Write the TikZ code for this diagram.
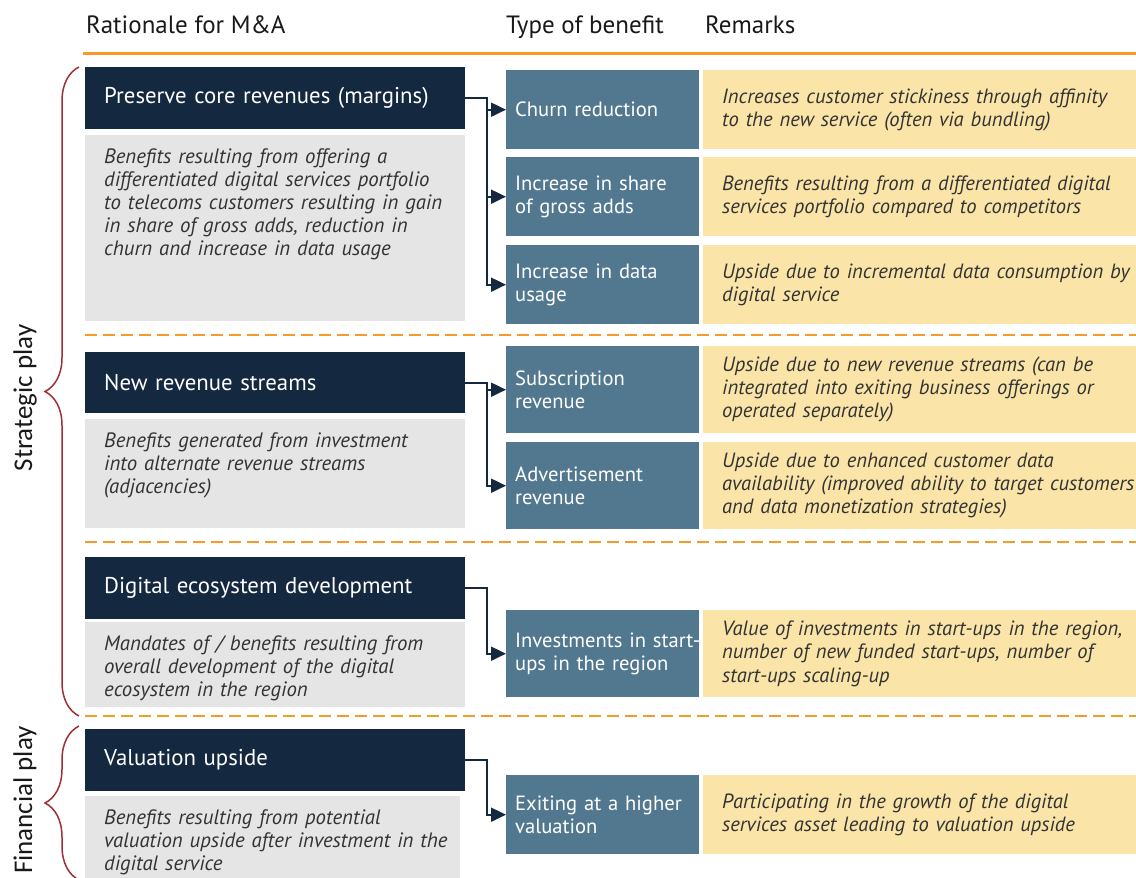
\documentclass[tikz,border=0pt]{standalone}
\usepackage{fontspec}
\setmainfont{PT Sans}
\newfontfamily\sidefont{Carlito}
\usetikzlibrary{arrows.meta,positioning,decorations.pathreplacing}

\definecolor{navy}{HTML}{14283F}
\definecolor{steel}{HTML}{52788F}
\definecolor{sand}{HTML}{FAE4A8}
\definecolor{pale}{HTML}{E5E5E5}
\definecolor{accent}{HTML}{F79A2A}
\definecolor{wine}{HTML}{9E2F33}

\tikzset{
  head/.style={anchor=base west, inner sep=0pt, text=black!90,
    font=\fontsize{25}{28}\selectfont},
  side/.style={anchor=base, rotate=90, inner sep=0pt, text=black!90,
    font=\sidefont\fontsize{27}{30}\selectfont},
  rationale/.style={fill=navy, text=white, anchor=north west,
    text width=342pt, inner xsep=19pt, minimum height=62pt, align=left,
    font=\fontsize{22.8}{26}\selectfont},
  greybox/.style={fill=pale, anchor=north west, inner sep=0pt},
  greytext/.style={anchor=north west, inner sep=0pt, text width=360pt,
    align=left, text=black!80, font=\itshape\fontsize{20.8}{23.2}\selectfont},
  benefit/.style={fill=steel, text=white, anchor=north west,
    text width=175pt, inner xsep=9pt, align=left,
    font=\fontsize{20.6}{23.5}\selectfont},
  remark/.style={fill=sand, text=black!80, anchor=north west,
    text width=395pt, inner xsep=19pt, align=left,
    font=\itshape\fontsize{20.6}{23.2}\selectfont},
  link/.style={navy, line width=2pt, -{Triangle[length=15pt,width=14pt]}},
  split/.style={accent, line width=2pt, dash pattern=on 12pt off 6pt},
  curly/.style={wine, line width=1.5pt, decorate,
    decoration={brace, amplitude=34pt}}
}

\begin{document}
\begin{tikzpicture}[x=1pt, y=-1pt]
  \useasboundingbox (0,0) rectangle (1136,878);

  % column heads
  \node[head] (hrat) at (86,34) {Rationale for M\&A};
  \node[head] (hben) at (506,34) {Type of benefit};
  \node[head] (hrem) at (705,34) {Remarks};
  \draw[accent, line width=3pt] (83,53) -- (1136,53);

  % rationale
  \node[rationale] (pres) at (85,67) {Preserve core revenues (margins)};
  \node[greybox, minimum width=380pt, minimum height=186pt] (gpres) at (85,135) {};
  \node[greytext] (tpres) at (gpres.north west) [xshift=19pt, yshift=-13pt]
    {Benefits resulting from offering a\\ differentiated digital services portfolio\\
     to telecoms customers resulting in gain\\ in share of gross adds, reduction in\\
     churn and increase in data usage};

  \node[rationale, minimum height=61pt] (newrev) at (85,352) {New revenue streams};
  \node[greybox, minimum width=380pt, minimum height=109pt] (gnewrev) at (85,419) {};
  \node[greytext] (tnewrev) at (gnewrev.north west) [xshift=19pt, yshift=-13pt]
    {Benefits generated from investment\\ into alternate revenue streams\\ (adjacencies)};

  \node[rationale] (eco) at (85,557) {Digital ecosystem development};
  \node[greybox, minimum width=380pt, minimum height=85pt] (geco) at (85,622) {};
  \node[greytext] (teco) at (geco.north west) [xshift=19pt, yshift=-13pt]
    {Mandates of / benefits resulting from\\ overall development of the digital\\
     ecosystem in the region};

  \node[rationale] (valup) at (85,729) {Valuation upside};
  \node[greybox, minimum width=375pt, minimum height=84pt] (gvalup) at (85,796) {};
  \node[greytext] (tvalup) at (gvalup.north west) [xshift=19pt, yshift=-13pt]
    {Benefits resulting from potential\\ valuation upside after investment in the\\
     digital service};

  % type of benefit
  \node[benefit, minimum height=79pt] (churn) at (506,70) {Churn reduction};
  \node[benefit, minimum height=79pt] (share) at (506,157) {Increase in share\\ of gross adds};
  \node[benefit, minimum height=79pt] (datause) at (506,245) {Increase in data\\ usage};
  \node[benefit, minimum height=87pt] (subs) at (506,346) {Subscription\\ revenue};
  \node[benefit, minimum height=87pt] (advert) at (506,442) {Advertisement\\ revenue};
  \node[benefit, minimum height=87pt] (invest) at (506,610) {\mbox{Investments in start-}\\ ups in the region};
  \node[benefit, minimum height=79pt] (exit) at (506,775) {Exiting at a higher\\ valuation};

  % remarks
  \node[remark, minimum height=79pt] (rchurn) at (703,70)
    {Increases customer stickiness through affinity\\ to the new service (often via bundling)};
  \node[remark, minimum height=79pt] (rshare) at (703,157)
    {Benefits resulting from a differentiated digital\\ services portfolio compared to competitors};
  \node[remark, minimum height=79pt] (rdata) at (703,245)
    {\mbox{Upside due to incremental data consumption by}\\ digital service};
  \node[remark, minimum height=87pt] (rsubs) at (703,346)
    {Upside due to new revenue streams (can be\\ integrated into exiting business offerings or\\
     operated separately)};
  \node[remark, minimum height=87pt] (radvert) at (703,442)
    {Upside due to enhanced customer data\\ \mbox{availability (improved ability to target customers}\\
     and data monetization strategies)};
  \node[remark, minimum height=87pt] (rinvest) at (703,610)
    {\mbox{Value of investments in start-ups in the region,}\\ number of new funded start-ups, number of\\
     start-ups scaling-up};
  \node[remark, minimum height=79pt] (rexit) at (703,775)
    {Participating in the growth of the digital\\ services asset leading to valuation upside};

  % connectors
  \draw[link] (pres.east) -- ++(22,0) |- (churn.west);
  \draw[link] (pres.east) -- ++(22,0) |- (share.west);
  \draw[link] (pres.east) -- ++(22,0) |- (datause.west);
  \draw[link] (newrev.east) -- ++(22,0) |- (subs.west);
  \draw[link] (newrev.east) -- ++(22,0) |- (advert.west);
  \draw[link] (eco.east) -- ++(22,0) |- (invest.west);
  \draw[link] (valup.east) -- ++(22,0) |- (exit.west);

  % separators
  \draw[split] (85,335) -- (1136,335);
  \draw[split] (85,542) -- (1136,542);
  \draw[split] (85,716) -- (1136,716);

  % braces
  \draw[curly] (79,716) -- (79,67);
  \draw[curly] (79,880) -- (79,726);
  \node[side] (strat) at (32,398) {Strategic play};
  \node[side] (fin) at (32,800) {Financial play};
\end{tikzpicture}
\end{document}
